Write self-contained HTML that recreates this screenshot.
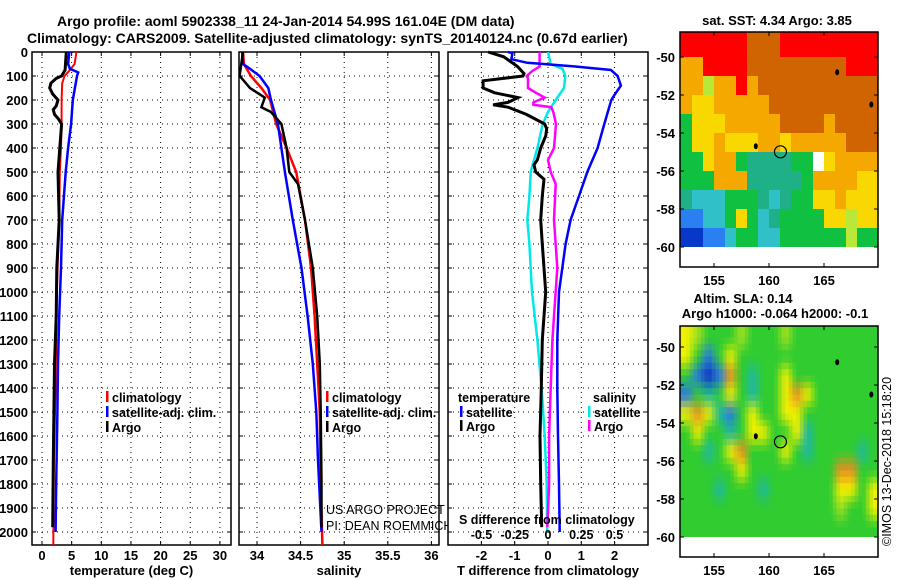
<!DOCTYPE html>
<html><head><meta charset="utf-8">
<style>
html,body{margin:0;padding:0;background:#fff;}
svg{display:block;font-family:"Liberation Sans",sans-serif;}
</style></head>
<body>
<svg id="c" width="900" height="580" viewBox="0 0 900 580" xmlns="http://www.w3.org/2000/svg"></svg>
<script>
// ---- data ----
const tempArgoDepth=[0,75,100,110,130,150,175,200,225,240,260,280,300,400,500,700,900,1100,1300,1500,1700,1980];
const tempArgo=[4.1,3.9,3.3,2.4,1.5,1.3,1.8,2.7,2.4,1.9,2.1,2.8,3.3,3.0,2.7,2.9,2.5,2.4,2.1,2.0,1.9,1.8];
const tempClimDepth=[0,50,75,100,130,200,300,400,500,700,1000,1400,1700,2054];
const tempClim=[5.8,5.5,4.7,3.8,3.4,3.3,3.3,3.2,3.0,2.9,2.5,2.3,2.0,1.9];
const tempSatDepth=[0,50,70,85,100,200,300,400,500,700,900,1100,1300,1500,1800,2000];
const tempSat=[4.6,4.4,4.7,6.1,5.9,5.2,4.9,4.4,4.0,3.4,3.2,2.9,2.7,2.6,2.4,2.3];

const salArgoDepth=[0,100,120,150,190,230,250,300,400,500,550,700,900,1100,1300,1500,1800,1980];
const salArgo=[33.84,33.80,33.85,33.92,34.09,34.05,34.16,34.28,34.34,34.37,34.47,34.55,34.64,34.69,34.72,34.73,34.74,34.74];
const salClimDepth=[0,50,100,150,200,300,400,500,700,900,1100,1300,1500,1800,2054];
const salClim=[33.84,33.85,33.93,34.05,34.15,34.22,34.34,34.45,34.55,34.62,34.66,34.69,34.72,34.73,34.75];
const salSatDepth=[0,50,70,100,150,200,300,400,500,700,900,1100,1300,1500,1700,2000];
const salSat=[33.83,33.84,33.92,34.03,34.13,34.16,34.24,34.28,34.32,34.41,34.51,34.58,34.64,34.68,34.70,34.74];

const dTArgoDepth=[0,20,60,90,100,120,150,170,190,210,220,230,260,300,320,350,400,450,470,500,530,600,700,800,1000,1200,1400,1600,1800,1980];
const dTArgo=[-1.8,-1.33,-0.92,-0.72,-0.75,-1.95,-1.95,-1.6,-0.9,-1.2,-1.65,-1.2,-0.65,-0.1,-0.04,-0.07,-0.22,-0.32,-0.42,-0.37,-0.12,-0.17,-0.22,-0.17,-0.07,-0.17,-0.2,-0.24,-0.22,-0.19];
const dTSatDepth=[0,5,30,45,60,75,100,140,180,200,300,400,500,600,700,800,1000,1200,1400,1600,1800,2000];
const dTSat=[-1.2,-1.07,-1.1,-0.62,0.78,1.89,2.09,2.19,1.99,1.9,1.69,1.49,1.18,0.93,0.68,0.53,0.33,0.28,0.28,0.3,0.33,0.35];
const dSArgoDepth=[0,60,80,100,110,150,170,190,210,220,230,250,300,400,450,500,550,700,900,1100,1200,1400,1600,1800,1980];
const dSArgo=[-0.063,-0.063,-0.12,-0.16,-0.15,-0.15,-0.09,-0.025,-0.11,-0.11,0.025,0.04,0.06,0.045,0,0.02,0.058,0.045,0.07,0.045,0.033,0.02,0.008,0.008,-0.005];
const dSSatDepth=[0,50,70,100,150,200,250,300,400,500,600,700,800,1000,1200,1400,1600,1800,2000];
const dSSat=[0,0.02,0.11,0.13,0.12,0.058,0,-0.04,-0.08,-0.13,-0.14,-0.156,-0.14,-0.12,-0.08,-0.048,-0.025,-0.01,-0.005];

const depthTicks=[0,100,200,300,400,500,600,700,800,900,1000,1100,1200,1300,1400,1500,1600,1700,1800,1900,2000];
const tempTicks=[0,5,10,15,20,25,30];
const salTicks=[34,34.5,35,35.5,36];
const salTickLabels=["34","34.5","35","35.5","36"];
const dTTicks=[-2,-1,0,1,2];
const dSTicks=[-0.5,-0.25,0,0.25,0.5];
const dSTickLabels=["-0.5","-0.25","0","0.25","0.5"];
const latTicks=[-50,-52,-54,-56,-58,-60];
const lonTicks=[155,160,165];

const sstRows=[
"RRRRRROOORRRRRRRRR",
"AARRRROOOOOOOOORRR",
"AALAARAOOOOOOOOOOO",
"AYYAAAAAOOOOOOOOOO",
"GYYYAAAAAOOOOAOOOO",
"GYYAYYYAAYAAAAAOOO",
"GGYAAGTTTTGGWYAAAA",
"GGGAAATTTTTGAAAAYY",
"TCCCGGGTCTGGYYAYYY",
"BBCCGYGCTGGGGYYLYY",
"DDBBCGGCCGGGGGGLGG"];
const slaRows=[
"YLGGGLGGGLGGGGGGGG",
"YGBGYGGGGGGGGGGGGG",
"GBDBOGTGGYGGGGGGGG",
"BGTGYGTGGYOYGGGGGG",
"YOYTBGYGGYYGGGGGGG",
"GYGGTGYYGGYTGGGGGG",
"GGTGYOGGGYGTGGGGTG",
"GGGGGYGGGGGGGGOOGG",
"GGGTGGGTGGGGGGYYGY",
"GGGGGGGGGGGGGGLGGY",
"GGGGGGGGGGGGGGGGGG"];
const sstColors={R:"#ff0000",O:"#d06400",A:"#f4a800",Y:"#f8d800",L:"#b8e838",G:"#10c040",T:"#20b088",C:"#30c0c8",B:"#2a80f0",D:"#0838c8",W:"#ffffff"};
const slaColors={G:"#30cc30",L:"#a0e020",Y:"#f0f000",O:"#e89020",T:"#20b8a0",B:"#2878e8",D:"#1030c0"};

const NS="http://www.w3.org/2000/svg";
const svg=document.getElementById('c');
function mk(tag,attrs,parent){const e=document.createElementNS(NS,tag);for(const k in attrs)e.setAttribute(k,attrs[k]);(parent||svg).appendChild(e);return e;}
function txt(s,x,y,anchor,cls,parent,size,weight){const t=mk('text',{x:x,y:y,'text-anchor':anchor||'start','font-size':size||13,'font-weight':weight||'bold'},parent);t.textContent=s;return t;}

const Y0=52, PY=0.24;
function yD(d){return Y0+d*PY;}
const TOP=52, BOT=545;

function panel(name,x0,x1,xs,ticks,labels,xtitle,grid){
  const g=mk('g',{});
  
  
  mk('rect',{x:x0,y:TOP,width:x1-x0,height:BOT-TOP,fill:'#fff',stroke:'#000','stroke-width':1.5},g);
  depthTicks.forEach(d=>{
    const gl=mk('line',{x1:x0,x2:x1,y1:yD(d),y2:yD(d),stroke:'#000','stroke-width':1,'stroke-dasharray':'1 4'},g);
    
    
    mk('line',{x1:x0,x2:x0+4,y1:yD(d),y2:yD(d),stroke:'#000'},g);
    mk('line',{x1:x1-4,x2:x1,y1:yD(d),y2:yD(d),stroke:'#000'},g);
  });
  grid.forEach(v=>{
    mk('line',{x1:xs(v),x2:xs(v),y1:TOP,y2:BOT,stroke:'#000','stroke-width':1,'stroke-dasharray':'1 4'},g);
  });
  ticks.forEach((v,i)=>{
    mk('line',{x1:xs(v),x2:xs(v),y1:BOT-4,y2:BOT,stroke:'#000'},g);
    mk('line',{x1:xs(v),x2:xs(v),y1:TOP,y2:TOP+4,stroke:'#000'},g);
    const t=txt(labels[i],xs(v),560,'middle',null,g);
    
    
  });
  const tt=txt(xtitle,(x0+x1)/2,575,'middle',null,g);
  
  
  return g;
}
function line(g,name,depths,vals,xs,color,w){
  const pts=depths.map((d,i)=>xs(vals[i]).toFixed(1)+','+yD(d).toFixed(1)).join(' ');
  const p=mk('polyline',{points:pts,fill:'none',stroke:color,'stroke-width':w||2},g);
  
  
}
function legendItem(g,name,x,y,color,label){
  const it=mk('g',{},g);
  
  
  mk('rect',{x:x,y:y-6,width:2.5,height:11,fill:color},it);
  txt(label,x+6,y+5,'start',null,it,12.5);
}

const t1=txt('Argo profile: aoml 5902338_11 24-Jan-2014 54.99S 161.04E (DM data)',57,26,'start');


t1.setAttribute('font-size','14');
const t2=txt('Climatology: CARS2009. Satellite-adjusted climatology: synTS_20140124.nc (0.67d earlier)',27,43,'start');


t2.setAttribute('font-size','14');

const xT=v=>42+v*5.93;
const p1=panel('temperature-panel',32,231,xT,tempTicks,tempTicks.map(String),'temperature (deg C)',tempTicks);
depthTicks.forEach(d=>{
  const l=txt(String(d),28,yD(d)+5,'end',null,p1);
  
  
});
line(p1,'temperature-climatology-line',tempClimDepth,tempClim,xT,'#ff0000',2);
line(p1,'temperature-satellite-line',tempSatDepth,tempSat,xT,'#0000ff',2.5);
line(p1,'temperature-argo-line',tempArgoDepth,tempArgo,xT,'#000',3);
legendItem(p1,'legend-climatology',106,397,'#ff0000','climatology');
legendItem(p1,'legend-satellite-adj',106,412,'#0000ff','satellite-adj. clim.');
legendItem(p1,'legend-argo',106,427,'#000','Argo');

const xS=v=>257+(v-34)*87.2;
const p2=panel('salinity-panel',239,439,xS,salTicks,salTickLabels,'salinity',salTicks);
line(p2,'salinity-climatology-line',salClimDepth,salClim,xS,'#ff0000',2.5);
line(p2,'salinity-satellite-line',salSatDepth,salSat,xS,'#0000ff',2.5);
line(p2,'salinity-argo-line',salArgoDepth,salArgo,xS,'#000',2.5);
legendItem(p2,'legend-climatology',326,397,'#ff0000','climatology');
legendItem(p2,'legend-satellite-adj',326,412,'#0000ff','satellite-adj. clim.');
legendItem(p2,'legend-argo',326,427,'#000','Argo');
const c1=txt('US ARGO PROJECT',326,514,'start',null,p2,12.5,'normal');


const c2=txt('PI: DEAN ROEMMICH',326,530,'start',null,p2,12.5,'normal');



const xDT=v=>548+v*33.3;
const xDS=v=>548+v*133;
const p3=panel('difference-panel',448,648,xDT,dTTicks,dTTicks.map(String),'T difference from climatology',dTTicks);
line(p3,'salinity-satellite-diff-line',dSSatDepth,dSSat,xDS,'#00e8e8',2.5);
line(p3,'salinity-argo-diff-line',dSArgoDepth,dSArgo,xDS,'#ff00ff',2.5);
line(p3,'temperature-satellite-diff-line',dTSatDepth,dTSat,xDT,'#0000ff',2.5);
line(p3,'temperature-argo-diff-line',dTArgoDepth,dTArgo,xDT,'#000',3);
const lt=txt('temperature',458,402,'start',null,p3,12.5);


const ls=txt('salinity',593,402,'start',null,p3,12.5);


legendItem(p3,'legend-temp-satellite',460,412,'#0000ff','satellite');
legendItem(p3,'legend-temp-argo',460,426,'#000','Argo');
legendItem(p3,'legend-sal-satellite',588,412,'#00e8e8','satellite');
legendItem(p3,'legend-sal-argo',588,426,'#ff00ff','Argo');
const sl=txt('S difference from climatology',459,524,'start',null,p3,12.5);


dSTicks.forEach((v,i)=>{
  const t=txt(dSTickLabels[i],xDS(v),539,'middle',null,p3,12.5);
  
  
});

// maps
const MX0=680,MX1=878;
const xLon=lon=>714+(lon-155)*11;
function hex2rgb(h){return [parseInt(h.substr(1,2),16),parseInt(h.substr(3,2),16),parseInt(h.substr(5,2),16)];}
function map(name,top,lat50,bottom,rows,colors,smooth){
  const g=mk('g',{});
  
  
  const yLat=lat=>lat50+(-50-lat)*19;
  const cid=name+'-clip';
  const defs=mk('defs',{},g);
  const cp=mk('clipPath',{id:cid},defs);
  mk('rect',{x:MX0,y:top,width:MX1-MX0,height:yLat(-60)-top},cp);
  mk('rect',{x:MX0,y:top,width:MX1-MX0,height:bottom-top,fill:'#fff'},g);
  const cells=mk('g',{'clip-path':'url(#'+cid+')'},g);
  const nr=rows.length, nc=rows[0].length;
  if(!smooth){
    rows.forEach((row,r)=>{
      for(let c=0;c<nc;c++){
        const cell=mk('rect',{x:xLon(152+c)-(c==0?12:0),y:yLat(-49-r)-(r==0?12:0),width:11.5+(c==0?12:0),height:19.5+(r==0?12:0),fill:colors[row[c]]},cells);
        
        
      }
    });
  } else {
    const rgb=rows.map(row=>row.split('').map(ch=>hex2rgb(colors[ch])));
    const step=1/3;
    for(let lat=-48.5;lat>-60.01;lat-=step){
      for(let lon=151.8;lon<170.01;lon+=step){
        let fc=Math.min(Math.max(lon+step/2-152-0.5,0),nc-1), fr=Math.min(Math.max(-49-(lat-step/2)-0.5,0),nr-1);
        const c0=Math.floor(fc),r0=Math.floor(fr),c1=Math.min(c0+1,nc-1),r1=Math.min(r0+1,nr-1);
        const tx=fc-c0, ty=fr-r0;
        const col=[0,1,2].map(k=>Math.round((rgb[r0][c0][k]*(1-tx)+rgb[r0][c1][k]*tx)*(1-ty)+(rgb[r1][c0][k]*(1-tx)+rgb[r1][c1][k]*tx)*ty));
        const cell=mk('rect',{x:xLon(lon).toFixed(1),y:yLat(lat).toFixed(1),width:4.2,height:6.9,fill:'rgb('+col.join(',')+')'},cells);
        
        
      }
    }
  }
  mk('rect',{x:MX0,y:top,width:MX1-MX0,height:bottom-top,fill:'none',stroke:'#000','stroke-width':1.5},g);
  latTicks.forEach(l=>{
    mk('line',{x1:MX0,x2:MX0+4,y1:yLat(l),y2:yLat(l),stroke:'#000'},g);
    mk('line',{x1:MX1-4,x2:MX1,y1:yLat(l),y2:yLat(l),stroke:'#000'},g);
    const t=txt(String(l),675,yLat(l)+5,'end',null,g);
    
    
  });
  lonTicks.forEach(l=>{
    mk('line',{x1:xLon(l),x2:xLon(l),y1:top,y2:top+4,stroke:'#000'},g);
    mk('line',{x1:xLon(l),x2:xLon(l),y1:bottom-4,y2:bottom,stroke:'#000'},g);
    const t=txt(String(l),xLon(l),bottom+18,'middle',null,g);
    
    
  });
  const c=mk('circle',{cx:xLon(161.04),cy:yLat(-54.99),r:6,fill:'none',stroke:'#000','stroke-width':1.2},g);
  
  
  [[166.2,-50.8],[169.3,-52.5],[158.8,-54.7]].forEach(p=>{
    const m=mk('ellipse',{cx:xLon(p[0]),cy:yLat(p[1]),rx:2,ry:3,fill:'#000'},g);
    
    
  });
  return g;
}
map('sst-map',32,57,267,sstRows,sstColors,false);
map('sla-map',326,347,557,slaRows,slaColors,true);
const mt1=txt('sat. SST: 4.34 Argo: 3.85',777,25,'middle');


const mt2=txt('Altim. SLA: 0.14',743,303,'middle');


const mt3=txt('Argo h1000: -0.064 h2000: -0.1',775,318,'middle');


const im=txt('©IMOS 13-Dec-2018 15:18:20',0,0,'start');
im.setAttribute('font-weight','normal');
im.setAttribute('font-size','12.5');
im.setAttribute('transform','translate(891,546) rotate(-90)');


</script>
</body></html>
